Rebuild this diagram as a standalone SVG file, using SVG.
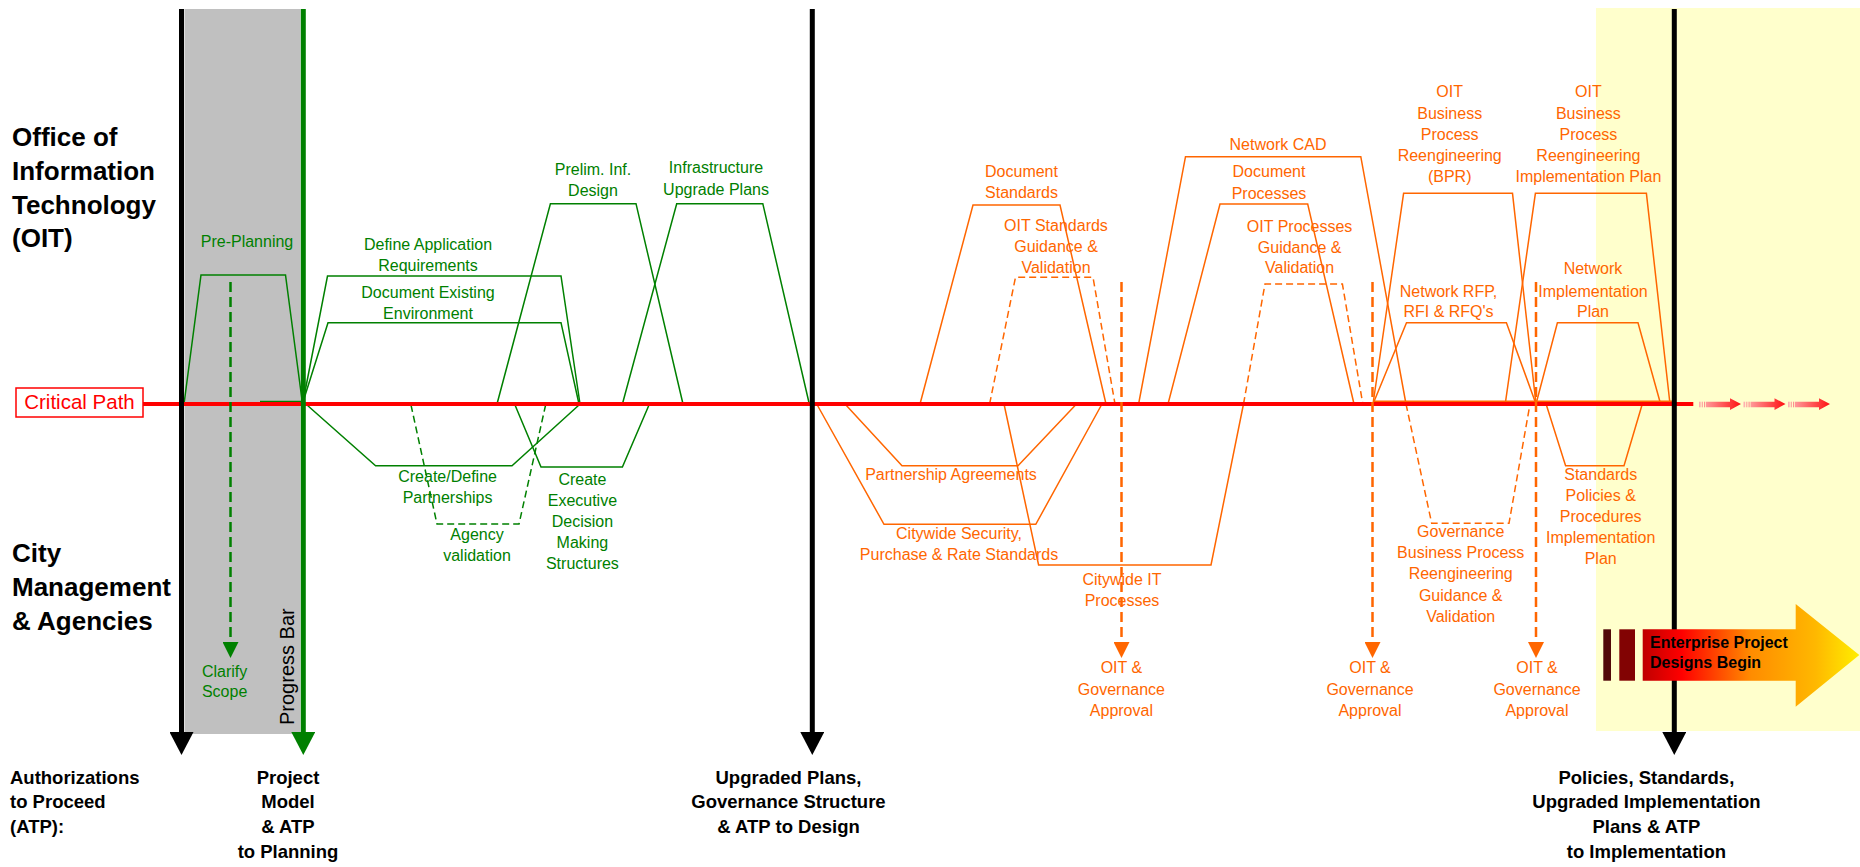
<svg xmlns="http://www.w3.org/2000/svg" xmlns:xlink="http://www.w3.org/1999/xlink" width="1860" height="867" viewBox="0 0 1860 867">
<style>
text{font-family:"Liberation Sans",Arial,Helvetica,sans-serif}
.gt{fill:#008000;font-size:16px;text-anchor:middle}
.ot{fill:#FF6600;font-size:16px;text-anchor:middle}
.gl{fill:none;stroke:#008000;stroke-width:1.5;stroke-linejoin:miter}
.ol{fill:none;stroke:#FF6600;stroke-width:1.5;stroke-linejoin:miter}
.dsh{stroke-dasharray:7 4}
.lane{font-size:26px;font-weight:bold;fill:#000}
.atp{font-size:18.5px;font-weight:bold;fill:#000;text-anchor:middle}
.ms{stroke:#000;stroke-width:5;fill:none}
.gda{stroke:#008000;stroke-width:2.5;stroke-dasharray:10 5;fill:none}
.oda{stroke:#FF6600;stroke-width:2.5;stroke-dasharray:10 5;fill:none}
</style>
<defs>
<marker id="hBlack" viewBox="0 0 23 24" refX="0" refY="12" markerWidth="23" markerHeight="24" markerUnits="userSpaceOnUse" orient="auto"><path d="M0,0 L23,12 L0,24 Z" fill="#000"/></marker>
<marker id="hGreenBig" viewBox="0 0 23 24" refX="0" refY="12" markerWidth="23" markerHeight="24" markerUnits="userSpaceOnUse" orient="auto"><path d="M0,0 L23,12 L0,24 Z" fill="#008000"/></marker>
<marker id="hGreen" viewBox="0 0 16 16" refX="0" refY="8" markerWidth="16" markerHeight="16" markerUnits="userSpaceOnUse" orient="auto"><path d="M0,0 L16,8 L0,16 Z" fill="#008000"/></marker>
<marker id="hOrange" viewBox="0 0 16 16" refX="0" refY="8" markerWidth="16" markerHeight="16" markerUnits="userSpaceOnUse" orient="auto"><path d="M0,0 L16,8 L0,16 Z" fill="#FF6600"/></marker>
<linearGradient id="miniGrad" x1="0" y1="0" x2="1" y2="0"><stop offset="0" stop-color="#FF9A9A"/><stop offset="1" stop-color="#FF1010"/></linearGradient>
<linearGradient id="entGrad" gradientUnits="userSpaceOnUse" x1="1643" y1="0" x2="1859" y2="0"><stop offset="0" stop-color="#C00000"/><stop offset="0.18" stop-color="#FF0000"/><stop offset="0.5" stop-color="#FF8C00"/><stop offset="0.8" stop-color="#FFB800"/><stop offset="1" stop-color="#FFEE00"/></linearGradient>
<g id="miniArrow">
<rect x="0" y="401.7" width="1.7" height="5.6" fill="#FFB0B0"/>
<rect x="2.7" y="401.7" width="1.2" height="5.6" fill="#FFA0A0"/>
<rect x="5" y="401.7" width="1.2" height="5.6" fill="#FF9090"/>
<path d="M7,401.7 L31,401.7 L31,398.3 L42,404 L31,410 L31,407.3 L7,407.3 Z" fill="url(#miniGrad)"/>
</g>
</defs>

<g id="backgrounds">
<rect x="184.5" y="9" width="116" height="725" fill="#C0C0C0"/>
<rect x="1596" y="8" width="264" height="723" fill="#FFFFCC"/>
</g>

<g id="lane-labels">
<text class="lane" x="12"><tspan x="12" y="146">Office of</tspan><tspan x="12" y="180">Information</tspan><tspan x="12" y="213.5">Technology</tspan><tspan x="12" y="247">(OIT)</tspan></text>
<text class="lane" x="12"><tspan x="12" y="562">City</tspan><tspan x="12" y="596">Management</tspan><tspan x="12" y="630">&amp; Agencies</tspan></text>
</g>

<g id="pre-planning">
<path class="gl" d="M184,404 L201,275 L285.5,275 L302,400"/>
<path class="gl" d="M260,401.5 L303,401.5"/>
<text class="gt" x="247" y="246.7">Pre-Planning</text>
</g>
<g id="define-application-requirements">
<path class="gl" d="M303,402 L327.5,276 L561,276 L580,404"/>
<text class="gt"><tspan x="428" y="250">Define Application</tspan><tspan x="428" y="270.7">Requirements</tspan></text>
</g>
<g id="document-existing-environment">
<path class="gl" d="M303,402 L328,322.7 L561,322.7 L579,404"/>
<text class="gt"><tspan x="428" y="298.3">Document Existing</tspan><tspan x="428" y="319">Environment</tspan></text>
</g>
<g id="prelim-inf-design">
<path class="gl" d="M497,404 L550.4,203.7 L636,203.7 L683,404"/>
<text class="gt"><tspan x="593" y="175">Prelim. Inf.</tspan><tspan x="593" y="195.7">Design</tspan></text>
</g>
<g id="infrastructure-upgrade-plans">
<path class="gl" d="M622.4,404 L676.7,203.7 L762.8,203.7 L809.3,404"/>
<text class="gt"><tspan x="716" y="173.3">Infrastructure</tspan><tspan x="716" y="195">Upgrade Plans</tspan></text>
</g>
<g id="create-define-partnerships">
<path class="gl" d="M307,405 L375.6,465.7 L512,465.7 L579,405"/>
<text class="gt"><tspan x="447.6" y="481.7">Create/Define</tspan><tspan x="447.6" y="502.7">Partnerships</tspan></text>
</g>
<g id="agency-validation">
<path class="gl dsh" d="M411,405 L437,524 L519,524 L545.6,405"/>
<text class="gt"><tspan x="477" y="540">Agency</tspan><tspan x="477" y="560.7">validation</tspan></text>
</g>
<g id="executive-decision-structures">
<path class="gl" d="M515,405 L541,467 L622.4,467 L649,405"/>
<text class="gt"><tspan x="582.4" y="485">Create</tspan><tspan x="582.4" y="505.7">Executive</tspan><tspan x="582.4" y="526.7">Decision</tspan><tspan x="582.4" y="548.3">Making</tspan><tspan x="582.4" y="569.3">Structures</tspan></text>
</g>
<g id="clarify-scope">
<text class="gt"><tspan x="224.6" y="676.7">Clarify</tspan><tspan x="224.6" y="697">Scope</tspan></text>
</g>

<g id="document-standards">
<path class="ol" d="M920,404 L973,205 L1060,205 L1106,404"/>
<text class="ot"><tspan x="1021.5" y="177">Document</tspan><tspan x="1021.5" y="198.3">Standards</tspan></text>
</g>
<g id="oit-standards-guidance">
<path class="ol dsh" d="M989.6,404 L1015.5,277.3 L1093,277.3 L1115,404"/>
<text class="ot"><tspan x="1056" y="230.7">OIT Standards</tspan><tspan x="1056" y="251.7">Guidance &amp;</tspan><tspan x="1056" y="272.7">Validation</tspan></text>
</g>
<g id="partnership-agreements">
<path class="ol" d="M845,404 L902,465.7 L1018,465.7 L1076.5,404"/>
<text class="ot" x="951" y="480">Partnership Agreements</text>
</g>
<g id="citywide-security">
<path class="ol" d="M816.7,404 L884,524.3 L1035.8,524.3 L1102,404"/>
<text class="ot"><tspan x="959" y="539.3">Citywide Security,</tspan><tspan x="959" y="560">Purchase &amp; Rate Standards</tspan></text>
</g>
<g id="citywide-it-processes">
<path class="ol" d="M1004,404 L1038.6,565 L1211,565 L1243.5,404"/>
<text class="ot"><tspan x="1122" y="585">Citywide IT</tspan><tspan x="1122" y="606">Processes</tspan></text>
</g>
<g id="network-cad">
<path class="ol" d="M1138.6,404 L1185.5,156.7 L1360.8,156.7 L1406,404"/>
<text class="ot" x="1278" y="150">Network CAD</text>
</g>
<g id="document-processes">
<path class="ol" d="M1168,404 L1220,204 L1307.7,204 L1354,404"/>
<text class="ot"><tspan x="1269" y="177">Document</tspan><tspan x="1269" y="199">Processes</tspan></text>
</g>
<g id="oit-processes-guidance">
<path class="ol dsh" d="M1243.5,404 L1265,284 L1342.4,284 L1362.8,404"/>
<text class="ot"><tspan x="1299.6" y="231.7">OIT Processes</tspan><tspan x="1299.6" y="252.7">Guidance &amp;</tspan><tspan x="1299.6" y="273.3">Validation</tspan></text>
</g>
<g id="governance-bpr-guidance">
<path class="ol dsh" d="M1406,404 L1431.7,523.3 L1509,523.3 L1530,404"/>
<text class="ot"><tspan x="1460.7" y="536.7">Governance</tspan><tspan x="1460.7" y="557.7">Business Process</tspan><tspan x="1460.7" y="579.3">Reengineering</tspan><tspan x="1460.7" y="600.7">Guidance &amp;</tspan><tspan x="1460.7" y="621.7">Validation</tspan></text>
</g>
<g id="oit-bpr">
<path class="ol" d="M1373,404 L1403.6,193.3 L1512.5,193.3 L1536,404"/>
<path class="ol" d="M1373,401.3 L1536,401.3"/>
<text class="ot"><tspan x="1449.7" y="97">OIT</tspan><tspan x="1449.7" y="118.5">Business</tspan><tspan x="1449.7" y="140">Process</tspan><tspan x="1449.7" y="161">Reengineering</tspan><tspan x="1449.7" y="182.3">(BPR)</tspan></text>
</g>
<g id="network-rfp">
<path class="ol" d="M1373,404 L1406.5,322.7 L1506.4,322.7 L1536,404"/>
<text class="ot"><tspan x="1448.5" y="296.7">Network RFP,</tspan><tspan x="1448.5" y="317.3">RFI &amp; RFQ's</tspan></text>
</g>
<g id="oit-bpr-implementation-plan">
<path class="ol" d="M1505.6,401.3 L1535.4,193.3 L1646.4,193.3 L1670,404"/>
<path class="ol" d="M1536,401.3 L1672,401.3"/>
<text class="ot"><tspan x="1588.4" y="97">OIT</tspan><tspan x="1588.4" y="118.5">Business</tspan><tspan x="1588.4" y="140">Process</tspan><tspan x="1588.4" y="161">Reengineering</tspan><tspan x="1588.4" y="182.3">Implementation Plan</tspan></text>
</g>
<g id="network-implementation-plan">
<path class="ol" d="M1536,404 L1557.4,322.7 L1638,322.7 L1660.6,404"/>
<text class="ot"><tspan x="1593" y="274">Network</tspan><tspan x="1593" y="296.7">Implementation</tspan><tspan x="1593" y="317.3">Plan</tspan></text>
</g>
<g id="standards-policies-procedures">
<path class="ol" d="M1546.4,405 L1565.6,465.7 L1624,465.7 L1642,405"/>
<text class="ot"><tspan x="1600.7" y="480">Standards</tspan><tspan x="1600.7" y="501">Policies &amp;</tspan><tspan x="1600.7" y="521.7">Procedures</tspan><tspan x="1600.7" y="543.3">Implementation</tspan><tspan x="1600.7" y="564.3">Plan</tspan></text>
</g>
<g id="approval-1"><text class="ot"><tspan x="1121.4" y="673.3">OIT &amp;</tspan><tspan x="1121.4" y="695">Governance</tspan><tspan x="1121.4" y="716">Approval</tspan></text></g>
<g id="approval-2"><text class="ot"><tspan x="1370" y="673.3">OIT &amp;</tspan><tspan x="1370" y="695">Governance</tspan><tspan x="1370" y="716">Approval</tspan></text></g>
<g id="approval-3"><text class="ot"><tspan x="1537" y="673.3">OIT &amp;</tspan><tspan x="1537" y="695">Governance</tspan><tspan x="1537" y="716">Approval</tspan></text></g>

<g id="critical-path">
<line x1="143" y1="404" x2="1693.3" y2="404" stroke="#FF0000" stroke-width="4"/>
<rect x="16" y="388" width="127" height="29" fill="#FFFFFF" stroke="#FF0000" stroke-width="1.5"/>
<text x="79.5" y="408.5" fill="#FF0000" font-size="20.5" text-anchor="middle">Critical Path</text>
<use xlink:href="#miniArrow" href="#miniArrow" x="1699"/>
<use xlink:href="#miniArrow" href="#miniArrow" x="1743.5"/>
<use xlink:href="#miniArrow" href="#miniArrow" x="1788"/>
</g>

<g id="connectors">
<line class="ms" x1="181.5" y1="9" x2="181.5" y2="732" marker-end="url(#hBlack)"/>
<line x1="303.3" y1="9" x2="303.3" y2="732" stroke="#008000" stroke-width="5" marker-end="url(#hGreenBig)"/>
<line class="ms" x1="812.3" y1="9" x2="812.3" y2="732" marker-end="url(#hBlack)"/>
<line class="ms" x1="1674.3" y1="9" x2="1674.3" y2="732" marker-end="url(#hBlack)"/>
<line class="gda" x1="230.5" y1="282" x2="230.5" y2="642" marker-end="url(#hGreen)"/>
<line class="oda" x1="1121.5" y1="282" x2="1121.5" y2="642" marker-end="url(#hOrange)"/>
<line class="oda" x1="1372.5" y1="282" x2="1372.5" y2="642" marker-end="url(#hOrange)"/>
<line class="oda" x1="1536" y1="282" x2="1536" y2="642" marker-end="url(#hOrange)"/>
</g>

<g id="progress-bar-label">
<text x="0" y="0" transform="translate(294 725) rotate(-90)" font-size="20" fill="#000">Progress Bar</text>
</g>

<g id="enterprise-project-designs">
<rect x="1603.3" y="629.3" width="7.7" height="51.4" fill="#520909"/>
<rect x="1619.3" y="629.3" width="15.7" height="51.4" fill="#820303"/>
<path d="M1642.7,629.3 L1795.7,629.3 L1795.7,604 L1859.3,655 L1795.7,706.7 L1795.7,680.7 L1642.7,680.7 Z" fill="url(#entGrad)"/>
<text font-size="16" font-weight="bold" fill="#000"><tspan x="1650" y="647.5">Enterprise Project</tspan><tspan x="1650" y="668.3">Designs Begin</tspan></text>
</g>

<g id="atp-labels">
<text class="atp" style="text-anchor:start"><tspan x="10" y="784">Authorizations</tspan><tspan x="10" y="808">to Proceed</tspan><tspan x="10" y="833">(ATP):</tspan></text>
<text class="atp"><tspan x="288" y="784">Project</tspan><tspan x="288" y="808">Model</tspan><tspan x="288" y="833">&amp; ATP</tspan><tspan x="288" y="858">to Planning</tspan></text>
<text class="atp"><tspan x="788.5" y="784">Upgraded Plans,</tspan><tspan x="788.5" y="808">Governance Structure</tspan><tspan x="788.5" y="833">&amp; ATP to Design</tspan></text>
<text class="atp"><tspan x="1646.4" y="784">Policies, Standards,</tspan><tspan x="1646.4" y="808">Upgraded Implementation</tspan><tspan x="1646.4" y="833">Plans &amp; ATP</tspan><tspan x="1646.4" y="858">to Implementation</tspan></text>
</g>
</svg>
